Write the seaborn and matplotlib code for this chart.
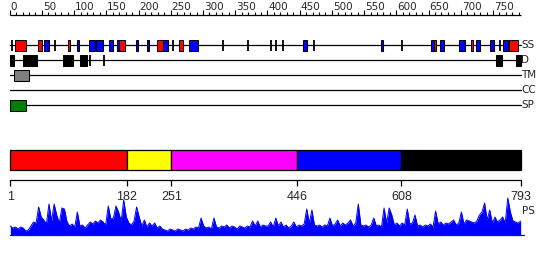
import matplotlib
matplotlib.use("Agg")
import matplotlib.pyplot as plt
from matplotlib.patches import Rectangle
import seaborn as sns
import pandas as pd

# ---------------- data ----------------
seq_len = 793
ruler_major = [0, 50, 100, 150, 200, 250, 300, 350, 400, 450, 500, 550, 600, 650, 700, 750]
ruler_minor = list(range(0, 800, 10))

ss_helix = [(9, 26), (44, 50), (90, 94), (169, 179), (229, 238), (263, 269),
            (659, 661), (716, 719), (775, 789)]
ss_strand = [(53, 61), (104, 107), (123, 132), (134, 145), (154, 160), (166, 169),
             (196, 199), (213, 216), (238, 246), (278, 292), (455, 461), (577, 580),
             (654, 658), (668, 674), (697, 707), (724, 730), (746, 752), (765, 773)]
ss_ticks = [3, 71, 253, 331, 370, 406, 414, 424, 472, 609, 761]

dis_regions = [(1, 7), (20, 43), (83, 98), (109, 120), (755, 764), (786, 793)]
dis_ticks = [124, 147]
tm_regions = [(7, 30)]
cc_regions = []
sp_regions = [(1, 26)]

track_names = ["SS", "D", "TM", "CC", "SP"]

domain_bounds = [1, 182, 251, 446, 608, 793]
domain_colors = ["#ff0000", "#ffff00", "#ff00ff", "#0000ff", "#000000"]

ps_pos = list(range(1, 794, 4))
ps_score = [9, 7, 8, 6, 8, 7, 4, 5, 9, 13,
            12, 28, 18, 15, 11, 31, 14, 31, 20, 12,
            27, 26, 13, 9, 11, 8, 23, 9, 10, 7,
            10, 13, 11, 14, 12, 15, 13, 10, 29, 16,
            17, 29, 23, 14, 35, 18, 12, 10, 14, 28,
            18, 9, 15, 8, 12, 9, 12, 7, 9, 6,
            5, 4, 6, 5, 4, 6, 5, 4, 6, 5,
            7, 6, 8, 7, 17, 9, 7, 8, 6, 17,
            8, 7, 9, 8, 10, 7, 9, 8, 6, 9,
            8, 7, 9, 8, 14, 9, 14, 8, 10, 9,
            9, 13, 8, 17, 9, 13, 8, 10, 7, 9,
            13, 8, 10, 9, 11, 26, 12, 25, 10, 9,
            10, 8, 10, 9, 17, 9, 11, 15, 9, 12,
            10, 12, 15, 9, 12, 31, 10, 9, 10, 8,
            10, 17, 9, 10, 8, 27, 12, 27, 20, 10,
            12, 9, 12, 10, 26, 11, 12, 20, 9, 10,
            8, 10, 9, 11, 8, 24, 11, 13, 10, 12,
            11, 13, 15, 10, 12, 23, 11, 15, 14, 13,
            12, 14, 20, 23, 32, 15, 25, 12, 18, 13,
            15, 18, 12, 37, 23, 14, 13, 12, 14]
ps_score = [v / 40.0 for v in ps_score]

# ---------------- layout (pixel rows) ----------------
W, H = 550, 260
px0, scale = 9.66, 0.6444          # x pixel = px0 + scale * residue
track_y = {"SS": 45.3, "D": 60.3, "TM": 75.3, "CC": 90.3, "SP": 105.3}
box_h = 10.6

sns.set_style("white")
plt.rcParams["font.family"] = ["DejaVu Sans"]

fig = plt.figure(figsize=(W / 100, H / 100), dpi=100)
ax = fig.add_axes([0, 0, 1, 1])

# top ruler
ruler_y = 15
ax.plot([0, seq_len], [ruler_y, ruler_y], color="black", lw=0.9, solid_capstyle="butt")
for t in ruler_minor:
    if t > seq_len:
        continue
    top = 10 if t in ruler_major else 12.3
    ax.plot([t, t], [ruler_y, top], color="black", lw=0.8, solid_capstyle="butt")
for t in ruler_major:
    ax.text(t + 1.5, 9.6, str(t), fontsize=7.5, ha="left", va="baseline",
            family=["DejaVu Sans"])

# tracks
def box(x0, x1, yc, color):
    ax.add_patch(Rectangle((x0, yc - box_h / 2), x1 - x0, box_h, facecolor=color,
                           edgecolor="black", lw=0.75, zorder=3))

def tick(x, yc):
    ax.plot([x, x], [yc - box_h / 2, yc + box_h / 2], color="black", lw=1.3,
            solid_capstyle="butt", zorder=3)

for name in track_names:
    yc = track_y[name]
    ax.plot([1, seq_len], [yc, yc], color="black", lw=0.9, zorder=2)
    ax.text(seq_len + 0.5, yc, name, fontsize=7.5, ha="left", va="center")

for s, e in ss_helix:
    box(s, e, track_y["SS"], "#ff0000")
for s, e in ss_strand:
    box(s, e, track_y["SS"], "#0000ff")
for t in ss_ticks:
    tick(t, track_y["SS"])
for s, e in dis_regions:
    box(s, e, track_y["D"], "#000000")
for t in dis_ticks:
    tick(t, track_y["D"])
for s, e in tm_regions:
    box(s, e, track_y["TM"], "#808080")
for s, e in cc_regions:
    box(s, e, track_y["CC"], "#ffa500")
for s, e in sp_regions:
    box(s, e, track_y["SP"], "#008000")

# domain bar
for (s, e), c in zip(zip(domain_bounds[:-1], domain_bounds[1:]), domain_colors):
    ax.add_patch(Rectangle((s, 150), e - s, 20.3, facecolor=c, edgecolor="black",
                           lw=0.9, zorder=3))

# bottom ruler
by = 180.3
ax.plot([1, seq_len], [by, by], color="black", lw=0.9)
for b in domain_bounds:
    ax.plot([b, b], [by, 185.5], color="black", lw=0.9, solid_capstyle="butt")
    ax.text(b, 200.2, str(b), fontsize=9, ha="center", va="baseline",
            family=["Liberation Sans"])

# PS profile
base = 235
df = pd.DataFrame({"pos": ps_pos, "y": [base - v * 40 for v in ps_score]})
ax.fill_between(df["pos"], base, df["y"], color="#0000ff", lw=0)
sns.lineplot(data=df, x="pos", y="y", ax=ax, color="#0000ff", lw=0.7)
ax.plot([1, seq_len + 5], [base, base], color="#0000ff", lw=0.9)
ax.text(seq_len + 1.5, 211, "PS", fontsize=7.5, ha="left", va="center")

ax.set_xlim(-px0 / scale, (W - px0) / scale)
ax.set_ylim(H, 0)
ax.axis("off")

fig.savefig("out.png", dpi=100)
